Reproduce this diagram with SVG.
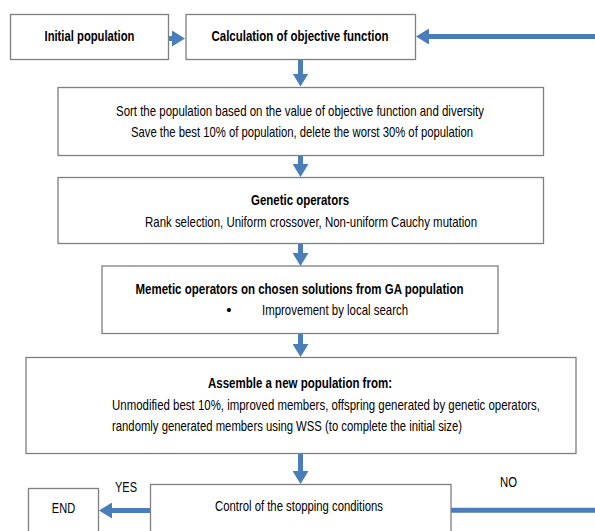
<svg xmlns="http://www.w3.org/2000/svg" width="595" height="531" viewBox="0 0 595 531">
<defs>
<style>
.box{fill:#fff;stroke:#7f7f7f;stroke-width:1.3}
.t{font-family:"Liberation Sans Narrow","Liberation Sans",Arial,sans-serif;font-size:15px;fill:#000;text-anchor:middle}
.b{font-weight:bold}
.l{text-anchor:start}
.c{fill:none;stroke:#4a7ebb;stroke-width:5}
</style>
<marker id="ah" markerUnits="userSpaceOnUse" markerWidth="14" markerHeight="16" refX="7" refY="8" orient="auto">
<path d="M0,0 L13,8 L0,16 Z" fill="#4a7ebb"/>
</marker>
</defs>
<rect width="595" height="531" fill="#fff"/>
<g id="connectors">
<line class="c" x1="168" y1="38.5" x2="179" y2="38.5" marker-end="url(#ah)"/>
<line class="c" x1="595" y1="36.5" x2="422" y2="36.5" marker-end="url(#ah)"/>
<line class="c" x1="300.5" y1="60" x2="300.5" y2="80.5" marker-end="url(#ah)"/>
<line class="c" x1="300.5" y1="156" x2="300.5" y2="171" marker-end="url(#ah)"/>
<line class="c" x1="300.5" y1="244" x2="300.5" y2="260" marker-end="url(#ah)"/>
<line class="c" x1="300.5" y1="334" x2="300.5" y2="351" marker-end="url(#ah)"/>
<line class="c" x1="300.5" y1="454" x2="300.5" y2="478" marker-end="url(#ah)"/>
<line class="c" x1="150" y1="510.5" x2="105" y2="510.5" marker-end="url(#ah)"/>
<line class="c" x1="451" y1="510.3" x2="595" y2="510.3"/>
<text class="t" x="126" y="491.5" textLength="22" lengthAdjust="spacingAndGlyphs">YES</text>
<text class="t" x="508.5" y="486.5" textLength="17" lengthAdjust="spacingAndGlyphs">NO</text>
</g>
<g id="initial">
<rect class="box" x="10.5" y="14.5" width="158" height="45"/>
<text class="t b" x="89.5" y="40.5" textLength="90" lengthAdjust="spacingAndGlyphs">Initial population</text>
</g>
<g id="calc">
<rect class="box" x="186" y="14.5" width="229.5" height="45"/>
<text class="t b" x="300" y="40.5" textLength="177" lengthAdjust="spacingAndGlyphs">Calculation of objective function</text>
</g>
<g id="sort">
<rect class="box" x="58" y="87.5" width="485.5" height="68"/>
<text class="t" x="300" y="115.5" textLength="368" lengthAdjust="spacingAndGlyphs">Sort the population based on the value of objective function and diversity</text>
<text class="t" x="302" y="137" textLength="342" lengthAdjust="spacingAndGlyphs">Save the best 10% of population, delete the worst 30% of population</text>
</g>
<g id="genetic">
<rect class="box" x="58" y="177.5" width="485.5" height="66"/>
<text class="t b" x="300" y="205" textLength="98" lengthAdjust="spacingAndGlyphs">Genetic operators</text>
<text class="t" x="311" y="227" textLength="332" lengthAdjust="spacingAndGlyphs">Rank selection, Uniform crossover, Non-uniform Cauchy mutation</text>
</g>
<g id="memetic">
<rect class="box" x="102" y="266" width="396" height="67.5"/>
<text class="t b" x="299.5" y="293.5" textLength="328" lengthAdjust="spacingAndGlyphs">Memetic operators on chosen solutions from GA population</text>
<text class="t" x="229" y="315">•</text>
<text class="t l" x="262" y="315" textLength="146" lengthAdjust="spacingAndGlyphs">Improvement by local search</text>
</g>
<g id="assemble">
<rect class="box" x="26" y="357.5" width="550" height="96"/>
<text class="t b" x="300" y="388" textLength="184" lengthAdjust="spacingAndGlyphs">Assemble a new population from:</text>
<text class="t l" x="112" y="409.5" textLength="428" lengthAdjust="spacingAndGlyphs">Unmodified best 10%, improved members, offspring generated by genetic operators,</text>
<text class="t l" x="112" y="430.5" textLength="350" lengthAdjust="spacingAndGlyphs">randomly generated members using WSS (to complete the initial size)</text>
</g>
<g id="control">
<rect class="box" x="150.5" y="484.5" width="300.5" height="60"/>
<text class="t" x="299" y="510.5" textLength="168" lengthAdjust="spacingAndGlyphs">Control of the stopping conditions</text>
</g>
<g id="end">
<rect class="box" x="28.5" y="488.5" width="70" height="50"/>
<text class="t" x="63.5" y="513" textLength="23.3" lengthAdjust="spacingAndGlyphs">END</text>
</g>
</svg>
